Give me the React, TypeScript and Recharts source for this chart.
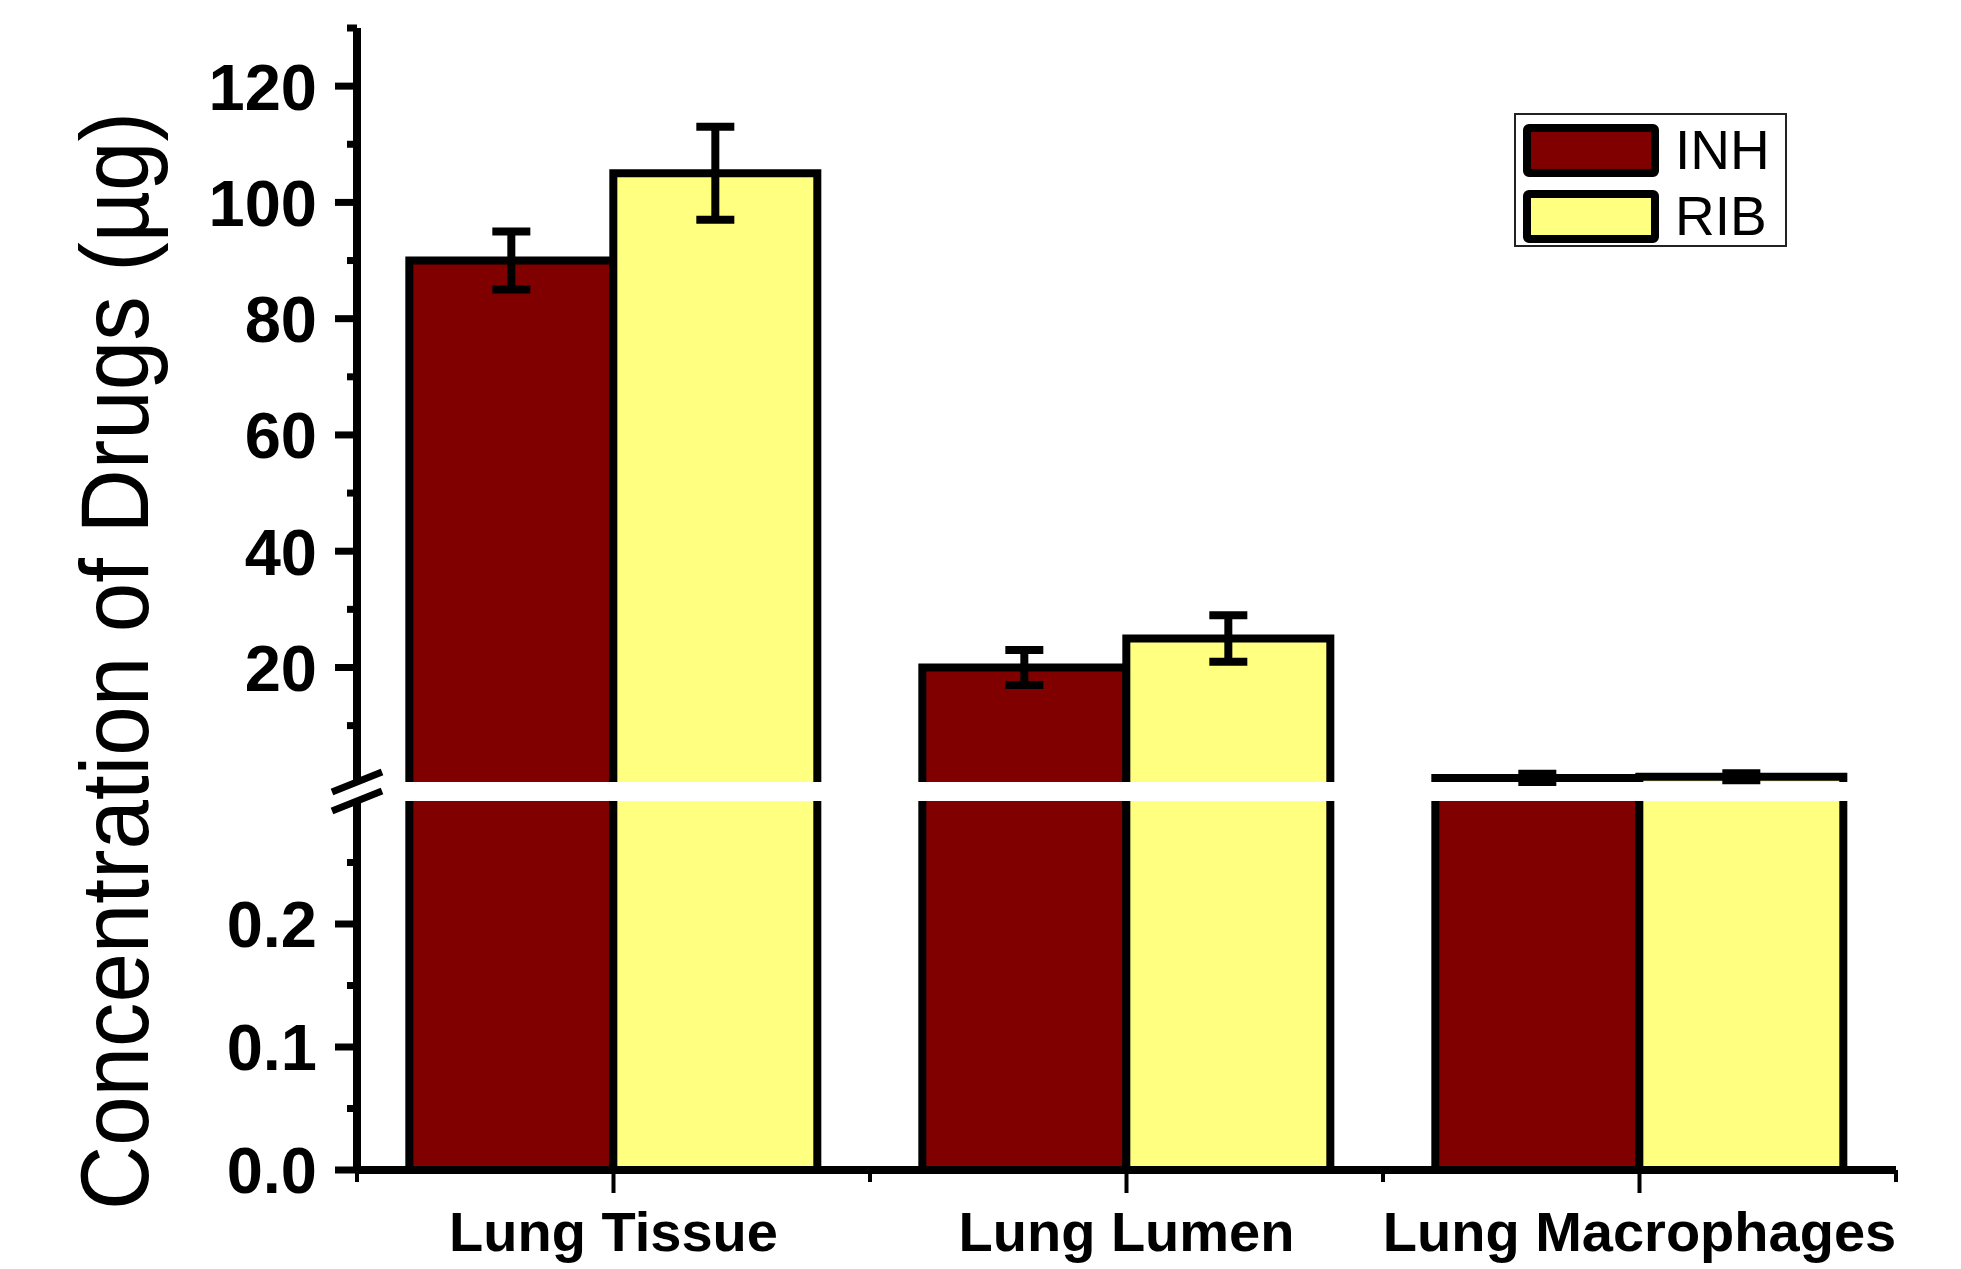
import { BarChart, Bar, XAxis, YAxis, ErrorBar, Legend } from "recharts";

// data
const categories = ["Lung Tissue", "Lung Lumen", "Lung Macrophages"];
const inh = [90, 20, 1.0];
const inhErr = [5, 3, 0.7];
const rib = [105, 25, 1.2];
const ribErr = [8, 4, 0.6];

const upperTicks = [10, 20, 30, 40, 50, 60, 70, 80, 90, 100, 110, 120, 130];
const upperLabels = [20, 40, 60, 80, 100, 120];
const lowerTicks = [0, 0.05, 0.1, 0.15, 0.2, 0.25];
const lowerLabels = [0, 0.1, 0.2];

const data = categories.map((name, i) => ({
  name,
  inh: inh[i],
  inhErr: inhErr[i],
  rib: rib[i],
  ribErr: ribErr[i],
}));

const W = 1961;
const H = 1269;
const AXIS_X = 357;
const PLOT_RIGHT = 1896;
const UPPER_TOP = 28;
const UPPER_BOTTOM = 782;
const LOWER_TOP = 801;
const LOWER_BOTTOM = 1170;
const LOWER_CHART_TOP = 790;
const BAND = (PLOT_RIGHT - AXIS_X) / categories.length;

const FONT = "'Liberation Sans', Arial, sans-serif";
const MAROON = "#800000";
const YELLOW = "#FFFF80";

function YTick(props: any) {
  const { x, y, payload, labels, fmt } = props;
  const major = labels.includes(payload.value);
  return (
    <g>
      <line x1={x - (major ? 22 : 10)} x2={x} y1={y} y2={y} stroke="#000" strokeWidth={7} />
      {major && (
        <text x={x - 40} y={y} dy="0.36em" textAnchor="end" fontFamily={FONT} fontWeight="bold" fontSize={65} fill="#000">
          {fmt(payload.value)}
        </text>
      )}
    </g>
  );
}

function XTick(props: any) {
  const { x, y, payload, index } = props;
  return (
    <g>
      <line x1={x} x2={x} y1={y} y2={y + 23} stroke="#000" strokeWidth={4} />
      <line x1={x + BAND / 2} x2={x + BAND / 2} y1={y} y2={y + 12} stroke="#000" strokeWidth={4} />
      {index === 0 && <line x1={x - BAND / 2} x2={x - BAND / 2} y1={y} y2={y + 12} stroke="#000" strokeWidth={4} />}
      <text x={x} y={y + 81} textAnchor="middle" fontFamily={FONT} fontWeight="bold" fontSize={56} fill="#000">
        {payload.value}
      </text>
    </g>
  );
}

// bar outline without the edge that sits on the axis break
function OpenBottom(props: any) {
  const { x, y, width, height, fill } = props;
  if (!height || height <= 0) return null;
  return (
    <g>
      <rect x={x} y={y} width={width} height={height} fill={fill} />
      <path d={`M${x},${y + height}L${x},${y}L${x + width},${y}L${x + width},${y + height}`} fill="none" stroke="#000" strokeWidth={8} />
    </g>
  );
}

function OpenTop(props: any) {
  const { x, y, width, height, fill } = props;
  if (!height || height <= 0) return null;
  return (
    <g>
      <rect x={x} y={y} width={width} height={height} fill={fill} />
      <path d={`M${x},${y}L${x},${y + height}L${x + width},${y + height}L${x + width},${y}`} fill="none" stroke="#000" strokeWidth={8} />
    </g>
  );
}

function LegendBox(props: any) {
  const items = props.payload || [];
  return (
    <div style={{ width: 269, height: 130, border: "2px solid #222", background: "#fff", fontFamily: FONT, position: "relative" }}>
      {items.map((it: any, i: number) => (
        <div key={it.value} style={{ position: "absolute", left: 7, top: 9 + i * 66, display: "flex", alignItems: "center" }}>
          <div style={{ width: 120, height: 37, background: it.color, border: "8px solid #000", borderRadius: 6 }} />
          <span style={{ marginLeft: 16, fontSize: 55, lineHeight: "51px", color: "#000" }}>{it.value}</span>
        </div>
      ))}
    </div>
  );
}

export default function App() {
  return (
    <div style={{ position: "absolute", left: 0, top: 0, width: W, height: H, background: "#fff" }}>
      <div style={{ position: "absolute", left: 0, top: 0 }}>
        <BarChart
          width={W}
          height={LOWER_CHART_TOP}
          data={data}
          barCategoryGap="10.2%"
          barGap={0}
          margin={{ top: UPPER_TOP, right: W - PLOT_RIGHT, left: 0, bottom: LOWER_CHART_TOP - UPPER_BOTTOM }}
        >
          <XAxis dataKey="name" hide />
          <YAxis
            width={AXIS_X}
            domain={[0.3, 130]}
            ticks={upperTicks}
            allowDataOverflow
            axisLine={{ stroke: "#000", strokeWidth: 8 }}
            tickLine={false}
            tickSize={0}
            tickMargin={0}
            tick={(p: any) => <YTick {...p} labels={upperLabels} fmt={(v: number) => String(v)} />}
          />
          <Legend
            verticalAlign="middle"
            align="center"
            wrapperStyle={{ left: 1514, top: 113, width: 273, height: 134 }}
            content={(p: any) => <LegendBox {...p} />}
          />
          <Bar dataKey="inh" name="INH" fill={MAROON} shape={<OpenBottom />} isAnimationActive={false}>
            <ErrorBar dataKey="inhErr" width={19} stroke="#000" strokeWidth={8} isAnimationActive={false} />
          </Bar>
          <Bar dataKey="rib" name="RIB" fill={YELLOW} shape={<OpenBottom />} isAnimationActive={false}>
            <ErrorBar dataKey="ribErr" width={19} stroke="#000" strokeWidth={8} isAnimationActive={false} />
          </Bar>
        </BarChart>
      </div>
      <div style={{ position: "absolute", left: 0, top: LOWER_CHART_TOP }}>
        <BarChart
          width={W}
          height={H - LOWER_CHART_TOP}
          data={data}
          barCategoryGap="10.2%"
          barGap={0}
          margin={{ top: LOWER_TOP - LOWER_CHART_TOP, right: W - PLOT_RIGHT, left: 0, bottom: 0 }}
        >
          <XAxis
            dataKey="name"
            height={H - LOWER_BOTTOM}
            axisLine={{ stroke: "#000", strokeWidth: 8 }}
            tickLine={false}
            tickSize={0}
            tickMargin={0}
            interval={0}
            tick={(p: any) => <XTick {...p} />}
          />
          <YAxis
            width={AXIS_X}
            domain={[0, 0.3]}
            ticks={lowerTicks}
            allowDataOverflow
            axisLine={{ stroke: "#000", strokeWidth: 8 }}
            tickLine={false}
            tickSize={0}
            tickMargin={0}
            tick={(p: any) => <YTick {...p} labels={lowerLabels} fmt={(v: number) => v.toFixed(1)} />}
          />
          <Bar dataKey="inh" name="INH" fill={MAROON} shape={<OpenTop />} isAnimationActive={false} />
          <Bar dataKey="rib" name="RIB" fill={YELLOW} shape={<OpenTop />} isAnimationActive={false} />
        </BarChart>
      </div>
      <svg width={W} height={H} style={{ position: "absolute", left: 0, top: 0, pointerEvents: "none" }}>
        <text
          x={148}
          y={661}
          transform="rotate(-90 148 661)"
          textAnchor="middle"
          fontFamily={FONT}
          fontSize={96}
          textLength={1098}
          lengthAdjust="spacingAndGlyphs"
          fill="#000"
        >
          Concentration of Drugs (µg)
        </text>
        {[UPPER_BOTTOM, LOWER_TOP].map((yy) => (
          <line key={yy} x1={AXIS_X - 25} y1={yy + 10} x2={AXIS_X + 25} y2={yy - 10} stroke="#000" strokeWidth={7} />
        ))}
      </svg>
    </div>
  );
}
